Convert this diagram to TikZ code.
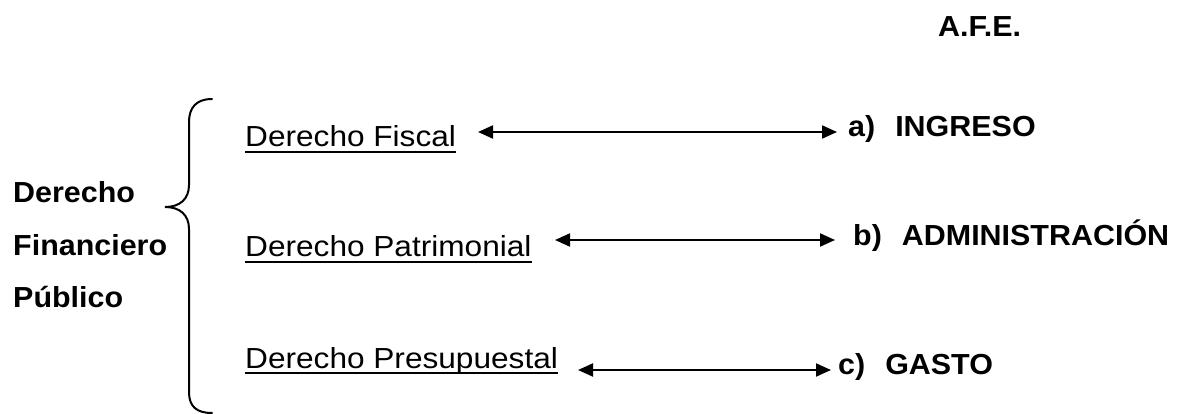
\documentclass[tikz,border=0pt]{standalone}
\usepackage{fontspec}
\setmainfont{Liberation Sans}[FakeStretch=1.09]
\newfontfamily\boldsans{Liberation Sans}[FakeStretch=1.05]
\usetikzlibrary{arrows.meta}
\begin{document}
\begin{tikzpicture}[x=1pt,y=-1pt,
  txt/.style={inner sep=0pt,anchor=base west,font=\fontsize{29}{35}\selectfont},
  btxt/.style={txt,font=\fontsize{29}{35}\selectfont\boldsans\bfseries},
  uline/.style={line width=2pt},
  conn/.style={line width=2pt,{Triangle[length=15pt,width=13pt]}-{Triangle[length=15pt,width=13pt]}},
  bracestyle/.style={line width=2pt,line cap=round}]
\useasboundingbox[fill=white] (0,0) rectangle (1178,414);
% header
\node[btxt] (afe) at (938,37) {A.F.E.};
% left label
\node[btxt] (l1) at (13,203) {Derecho};
\node[btxt] (l2) at (13,255) {Financiero};
\node[btxt] (l3) at (13,307) {Público};
% brace
\draw[bracestyle] (212,99) .. controls (196,99) and (189,108) .. (189,122) -- (189,185)
  .. controls (189,199) and (180,207) .. (165,207)
  .. controls (180,207) and (189,215) .. (189,229) -- (189,392)
  .. controls (189,406) and (196,413) .. (212,413);
% middle column
\node[txt] (fiscal) at (245,147) {Derecho Fiscal};
\node[txt] (patri) at (245,257) {Derecho Patrimonial};
\node[txt] (presu) at (245,368) {Derecho Presupuestal};
\foreach \n in {fiscal,patri,presu}
  \draw[uline] ([yshift=-5pt]\n.base west) -- ([yshift=-5pt]\n.base east);
% right column
\node[btxt] (ra) at (848,137) {a)\hspace{20pt}INGRESO};
\node[btxt] (rb) at (853,246) {b)\hspace{20pt}ADMINISTRACIÓN};
\node[btxt] (rc) at (838,374) {c)\hspace{20pt}GASTO};
% arrows
\coordinate (a1) at (478,132); \coordinate (a2) at (837,132);
\coordinate (b1) at (555,240); \coordinate (b2) at (835,240);
\coordinate (c1) at (578,370); \coordinate (c2) at (831,370);
\draw[conn] (a1) -- (a2);
\draw[conn] (b1) -- (b2);
\draw[conn] (c1) -- (c2);
\end{tikzpicture}
\end{document}
